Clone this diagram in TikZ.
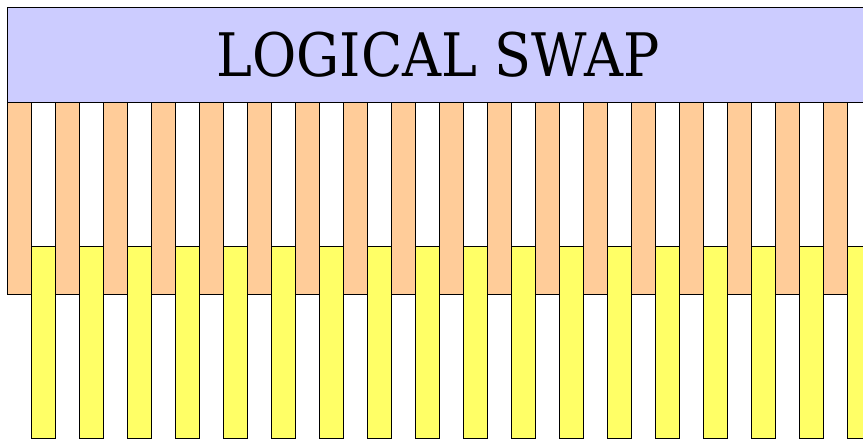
\documentclass[tikz,border=0pt]{standalone}
\usepackage{fontspec}
\setmainfont{DejaVu Serif Condensed}
\usepackage{tikz}

\definecolor{swapblue}{HTML}{CCCCFF}
\definecolor{wireorange}{HTML}{FFCC99}
\definecolor{wireyellow}{HTML}{FFFF66}

\tikzset{
  wirein/.style={draw=black, fill=wireorange, line width=0.9pt},
  wireout/.style={draw=black, fill=wireyellow, line width=0.9pt},
  swapbox/.style={draw=black, fill=swapblue, line width=0.9pt, inner sep=0pt,
    minimum width=900pt, minimum height=95pt, anchor=north west}
}

\begin{document}
\begin{tikzpicture}[x=1pt,y=-1pt]
\useasboundingbox (0,0) rectangle (863,440);
\clip (0,0) rectangle (863,440);

% input lines
\foreach \i in {0,...,17}
  \draw[wirein] ({7+48*\i},96) rectangle ({31+48*\i},294);

% swap block
\node[swapbox] (swap) at (7,7) {};
\node[font=\fontsize{60}{60}\selectfont] (title) at (438,55) {LOGICAL SWAP};

% output lines
\foreach \i in {0,...,17}
  \draw[wireout] ({31+48*\i},246) rectangle ({55+48*\i},438);
\end{tikzpicture}
\end{document}
